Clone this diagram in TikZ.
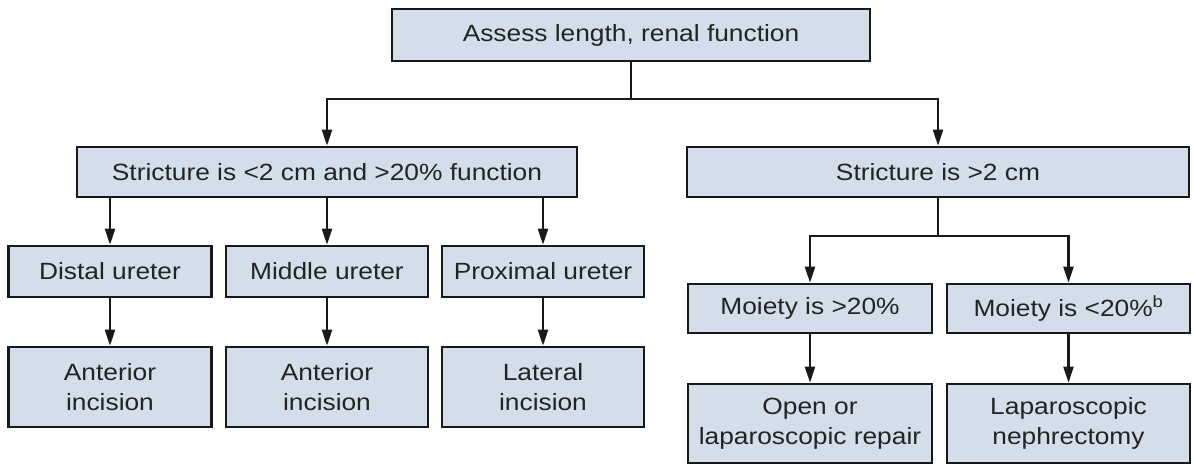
\documentclass[tikz,border=0pt]{standalone}
\usepackage{fontspec}
\setmainfont{Liberation Sans}[FakeStretch=1.12]
\usetikzlibrary{arrows.meta}
\definecolor{boxfill}{RGB}{212,222,235}
\definecolor{boxdraw}{RGB}{25,25,25}
\definecolor{txt}{RGB}{35,35,35}
\tikzset{
  flowbox/.style={draw=boxdraw, fill=boxfill, line width=2.6pt, inner sep=0pt,
    text=txt, align=center, font=\fontsize{23.5}{30}\selectfont},
  arr/.style={draw=boxdraw, line width=2.2pt, -{Triangle[length=16pt,width=10pt]}},
  link/.style={draw=boxdraw, line width=2.2pt}
}
\begin{document}
\begin{tikzpicture}[x=1pt,y=-1pt]
\useasboundingbox (0,0) rectangle (1194,470);
% level 0
\node[flowbox, minimum width=478pt, minimum height=52pt] (top) at (631,35) {Assess length, renal function};
% level 1
\node[flowbox, minimum width=500pt, minimum height=50pt] (L) at (327,172) {Stricture is <2 cm and >20\% function};
\node[flowbox, minimum width=502pt, minimum height=50pt] (R) at (938,172) {Stricture is >2 cm};
% level 2 left
\node[flowbox, minimum width=203pt, minimum height=51pt] (D) at (110,271.5) {Distal ureter};
\node[flowbox, minimum width=202pt, minimum height=51pt] (M) at (327,271.5) {Middle ureter};
\node[flowbox, minimum width=202pt, minimum height=51pt] (P) at (543,271.5) {Proximal ureter};
% level 3 left
\node[flowbox, minimum width=203pt, minimum height=80pt] (DI) at (110,387) {Anterior\\incision};
\node[flowbox, minimum width=202pt, minimum height=80pt] (MI) at (327,387) {Anterior\\incision};
\node[flowbox, minimum width=202pt, minimum height=80pt] (PI) at (543,387) {Lateral\\incision};
% right branch
\node[flowbox, minimum width=244pt, minimum height=49pt] (G) at (810,308.5) {Moiety is >20\%};
\node[flowbox, minimum width=243pt, minimum height=49pt] (S) at (1068.5,308.5) {Moiety is <20\%\textsuperscript{b}};
\node[flowbox, minimum width=244pt, minimum height=79pt] (O) at (810,423.5) {Open or\\laparoscopic repair};
\node[flowbox, minimum width=243pt, minimum height=79pt] (N) at (1068.5,423.5) {Laparoscopic\\nephrectomy};
% connectors
\coordinate (j1) at (631,99);
\draw[link] (top.south) -- (j1);
\draw[arr] (j1) -| (L.north);
\draw[arr] (j1) -| (R.north);
\draw[arr] (L.south -| D.north) -- (D.north);
\draw[arr] (L.south -| M.north) -- (M.north);
\draw[arr] (L.south -| P.north) -- (P.north);
\draw[arr] (D.south) -- (DI.north);
\draw[arr] (M.south) -- (MI.north);
\draw[arr] (P.south) -- (PI.north);
\coordinate (j2) at (938,236);
\draw[link] (R.south) -- (j2);
\draw[arr] (j2) -| (G.north);
\draw[arr] (j2) -| (S.north);
\draw[arr] (G.south) -- (O.north);
\draw[arr] (S.south) -- (N.north);
\end{tikzpicture}
\end{document}
